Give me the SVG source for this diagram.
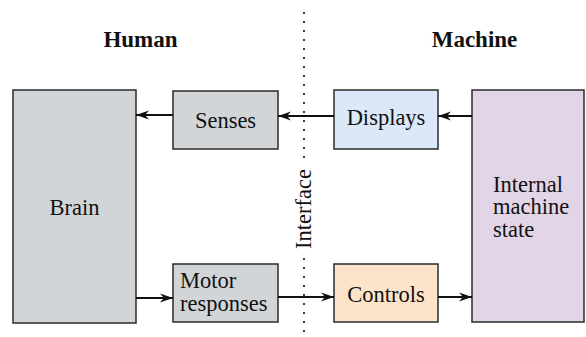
<svg xmlns="http://www.w3.org/2000/svg" width="586" height="337" viewBox="0 0 586 337">
<defs>
<style>
text{font-family:"Liberation Serif",serif;fill:#111}
.t{font-size:22.5px}
.h{font-size:23px;font-weight:bold}
.box{stroke:#2b2b2b;stroke-width:1.5}
.c{stroke:#111;stroke-width:2;fill:none}
.dot{stroke:#111;stroke-width:2.2;stroke-linecap:round;stroke-dasharray:0 9;fill:none}
</style>
<marker id="ah" markerWidth="14" markerHeight="10" refX="13" refY="5" orient="auto" markerUnits="userSpaceOnUse">
<path d="M0,0.5 L13,5 L0,9.5 L4,5 Z" fill="#111"/>
</marker>
</defs>
<rect width="586" height="337" fill="#fff"/>
<text class="h" x="140.5" y="47" text-anchor="middle">Human</text>
<text class="h" x="474.5" y="47" text-anchor="middle">Machine</text>
<g id="brain"><rect class="box" x="13" y="90" width="123" height="233" fill="#d1d5d8"/><text class="t" x="74.5" y="215" text-anchor="middle">Brain</text></g>
<g id="senses"><rect class="box" x="173" y="91" width="105" height="58" fill="#d1d5d8"/><text class="t" x="225.5" y="128" text-anchor="middle">Senses</text></g>
<g id="motor"><rect class="box" x="173" y="264" width="105" height="58" fill="#d1d5d8"/><text class="t" x="180" y="288">Motor</text><text class="t" x="180" y="310.5">responses</text></g>
<g id="displays"><rect class="box" x="334" y="90" width="104" height="59" fill="#dae8f8"/><text class="t" x="386" y="125" text-anchor="middle">Displays</text></g>
<g id="controls"><rect class="box" x="334" y="264" width="104" height="58" fill="#fde3c9"/><text class="t" x="386" y="302" text-anchor="middle">Controls</text></g>
<g id="internal"><rect class="box" x="472" y="90" width="112" height="232" fill="#e2d5e8"/><text class="t" x="493" y="191.5">Internal</text><text class="t" x="493" y="214">machine</text><text class="t" x="493" y="236.5">state</text></g>
<g id="interface"><path class="dot" d="M304,13 V162 M304,259 V337"/><text class="t" transform="translate(311,209) rotate(-90)" text-anchor="middle">Interface</text></g>
<g id="connectors">
<path class="c" d="M173,115 H136" marker-end="url(#ah)"/>
<path class="c" d="M334,116 H278" marker-end="url(#ah)"/>
<path class="c" d="M472,116 H438" marker-end="url(#ah)"/>
<path class="c" d="M136,298 H173" marker-end="url(#ah)"/>
<path class="c" d="M278,297 H334" marker-end="url(#ah)"/>
<path class="c" d="M438,297 H472" marker-end="url(#ah)"/>
</g>
</svg>
